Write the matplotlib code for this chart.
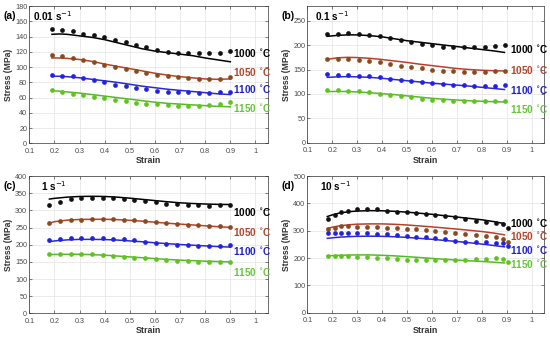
import matplotlib
matplotlib.use("Agg")
import matplotlib.pyplot as plt
import numpy as np

plt.rcParams['font.family'] = ['Liberation Sans', 'DejaVu Sans']

temps = ['1000', '1050', '1100', '1150']
dot_colors = ['#111111', '#8a4a1e', '#2222e0', '#5ec41e']
line_colors = ['#000000', '#b8402a', '#2a2ad0', '#58b82a']
label_colors = ['#000000', '#b0442a', '#2020c8', '#66c43a']

# ---- (a) 0.01 s^-1 ----
rate_a = '0.01 s$^{-1}$'
strain_a = [0.19, 0.232, 0.274, 0.315, 0.357, 0.399, 0.441, 0.483, 0.524, 0.566,
            0.608, 0.65, 0.692, 0.733, 0.775, 0.817, 0.859, 0.90]
exp_a_1000 = [149.5, 148.5, 147.5, 144, 142, 140, 135, 133, 129, 126, 123, 120, 119, 118, 118, 118, 119, 121.5]
exp_a_1050 = [116, 114, 112, 109, 107, 103, 100, 97, 95, 92, 89.5, 88, 86.5, 86, 85, 85, 84, 86.5]
exp_a_1100 = [90, 89, 88, 86, 83, 81, 77, 75, 72, 71, 69, 68, 67, 67, 66, 66, 67, 68]
exp_a_1150 = [70, 67, 65, 63, 61, 59, 57, 55, 53, 52, 51, 50, 49, 49, 49, 50, 51, 54]
fit_strain_a = [0.19, 0.22, 0.25, 0.3, 0.35, 0.4, 0.45, 0.5, 0.55, 0.6, 0.65, 0.7, 0.75, 0.8, 0.85, 0.9]
fit_a_1000 = [143, 143.5, 143, 141, 139, 136, 132, 128, 124, 121, 119, 117, 115, 112, 109.5, 107]
fit_a_1050 = [112, 112, 111.5, 110, 107.5, 104, 101, 98, 95, 92, 89.5, 87.5, 86, 84.5, 84, 84.5]
fit_a_1100 = [88, 88, 87.5, 86, 84, 82, 80, 77.5, 75, 73, 71, 69.5, 68, 66.5, 65, 64]
fit_a_1150 = [69, 68.5, 67.5, 66, 64, 62, 60, 58, 56, 54, 52.5, 51.5, 50.5, 49.5, 48.5, 48]
label_y_a = [119, 94, 71, 47]

# ---- (b) 0.1 s^-1 ----
rate_b = '0.1 s$^{-1}$'
strain_b = [0.18, 0.222, 0.264, 0.306, 0.348, 0.39, 0.432, 0.474, 0.516, 0.558,
            0.6, 0.642, 0.684, 0.726, 0.768, 0.81, 0.852, 0.893]
exp_b_1000 = [222, 223, 224, 223, 220, 218, 214, 210, 207, 203, 200, 197, 196, 196, 196, 197, 199, 200]
exp_b_1050 = [172, 172, 171, 170, 168, 166, 162, 158, 155, 153, 150, 147, 146, 145, 144, 145, 146, 146]
exp_b_1100 = [140, 139, 138, 137, 136, 134, 131, 128, 126, 124, 122, 120, 119, 118, 117, 117, 117, 119]
exp_b_1150 = [109, 108, 107, 105, 103, 100, 98, 95, 93, 90, 88, 87, 86, 86, 85, 85, 85, 85]
fit_strain_b = [0.18, 0.22, 0.26, 0.3, 0.35, 0.4, 0.45, 0.5, 0.55, 0.6, 0.65, 0.7, 0.75, 0.8, 0.85, 0.89]
fit_b_1000 = [218, 220, 221, 221, 219.5, 217, 213, 209, 206, 203, 200, 197, 194, 191, 188, 185]
fit_b_1050 = [171, 174, 175, 174.5, 173, 170.5, 167.5, 164.5, 161, 158, 155, 152, 150, 148.5, 147.5, 147]
fit_b_1100 = [134, 135, 135.5, 135, 134, 132, 129.5, 127, 124.5, 122, 120, 118, 116, 113.5, 111, 109]
fit_b_1150 = [105, 105, 105, 104, 102.5, 100.5, 98.5, 96, 93.5, 91, 89, 87.5, 86, 85, 84, 83.5]
label_y_b = [193, 149, 109, 69]

# ---- (c) 1 s^-1 ----
rate_c = '1 s$^{-1}$'
strain_c = [0.18, 0.222, 0.265, 0.307, 0.349, 0.392, 0.434, 0.476, 0.518, 0.561,
            0.603, 0.645, 0.688, 0.73, 0.772, 0.814, 0.857, 0.9]
exp_c_1000 = [315, 323, 332, 335, 335, 335, 335, 332, 330, 327, 324, 320, 318, 317, 315, 314, 315, 315]
exp_c_1050 = [262, 268, 271, 273, 274, 275, 274, 273, 271, 268, 265, 262, 259, 257, 256, 255, 254, 252]
exp_c_1100 = [214, 218, 219, 220, 220, 219, 218, 216, 213, 209, 205, 202, 199, 198, 197, 196, 196, 199]
exp_c_1150 = [172, 174, 174, 173, 172, 170, 168, 165, 162, 160, 158, 155, 153, 152, 150, 150, 150, 151]
fit_strain_c = [0.18, 0.2, 0.25, 0.3, 0.35, 0.4, 0.45, 0.5, 0.55, 0.6, 0.65, 0.7, 0.75, 0.8, 0.85, 0.9]
fit_c_1000 = [333, 335, 338.5, 340.5, 341, 340.5, 338.5, 335.5, 332, 328.5, 325, 322, 320, 318.5, 317.5, 317]
fit_c_1050 = [263, 267, 271.5, 273.5, 274, 274, 273, 271, 268.5, 265.5, 262.5, 260, 257.5, 255, 252.5, 250.5]
fit_c_1100 = [209, 211, 214, 215.5, 215.5, 215, 213.5, 211, 208.5, 205.5, 203, 200.5, 198.5, 196.5, 194.5, 193]
fit_c_1150 = [171, 171.5, 172, 172, 171, 169.5, 167, 164.5, 162, 159.5, 157, 155, 153.5, 152, 151, 150]
label_y_c = [294, 238, 182, 121]

# ---- (d) 10 s^-1 ----
rate_d = '10 s$^{-1}$'
strain_d = [0.184, 0.211, 0.234, 0.264, 0.30, 0.34, 0.378, 0.418, 0.458, 0.498, 0.536,
            0.576, 0.613, 0.652, 0.692, 0.732, 0.776, 0.816, 0.856, 0.886, 0.906]
exp_d_1000 = [343, 357, 369, 373, 379, 379, 378, 372, 370, 367, 366, 361, 357, 354, 349, 342, 337, 333, 327, 323, 311]
exp_d_1050 = [305, 311, 317, 317, 315, 315, 312, 311, 309, 305, 305, 303, 300, 295, 290, 288, 284, 282, 278, 271, 260]
exp_d_1100 = [290, 290, 290, 290, 290, 290, 288, 287, 284, 281, 278, 276, 272, 268, 263, 260, 260, 258, 256, 256, 244]
exp_d_1150 = [208, 208, 207, 207, 205, 205, 202, 199, 196, 194, 193, 193, 193, 193, 193, 194, 196, 198, 199, 196, 187]
fit_strain_d = [0.18, 0.2, 0.23, 0.27, 0.3, 0.35, 0.4, 0.45, 0.5, 0.55, 0.6, 0.65, 0.7, 0.75, 0.8, 0.85, 0.89]
fit_d_1000 = [352, 358, 365, 370, 372, 373.5, 373, 371, 368, 364, 360, 355, 350, 345, 340, 333, 326]
fit_d_1050 = [308, 313, 318, 322, 324, 325, 325, 323.5, 321, 317.5, 314, 310, 306, 301.5, 297, 291, 285]
fit_d_1100 = [272, 274, 276.5, 278.5, 279.5, 280, 279.5, 278, 275.5, 272, 268.5, 264.5, 260.5, 256, 251, 245.5, 241]
fit_d_1150 = [208, 209, 210, 211, 211.5, 211.5, 210, 208, 205, 202, 198.5, 195.5, 192.5, 190, 187.5, 184.5, 182]
label_y_d = [330, 282, 229, 178]

panels = [
    dict(tag='(a)', rate=rate_a, x=strain_a, exp=[exp_a_1000, exp_a_1050, exp_a_1100, exp_a_1150],
         fx=fit_strain_a, fit=[fit_a_1000, fit_a_1050, fit_a_1100, fit_a_1150], ly=label_y_a,
         ylim=180, ystep=20, pos=[0.0533, 0.577, 0.434, 0.405], rx=0.017),
    dict(tag='(b)', rate=rate_b, x=strain_b, exp=[exp_b_1000, exp_b_1050, exp_b_1100, exp_b_1150],
         fx=fit_strain_b, fit=[fit_b_1000, fit_b_1050, fit_b_1100, fit_b_1150], ly=label_y_b,
         ylim=280, ystep=50, pos=[0.5588, 0.579, 0.431, 0.403], rx=0.032),
    dict(tag='(c)', rate=rate_c, x=strain_c, exp=[exp_c_1000, exp_c_1050, exp_c_1100, exp_c_1150],
         fx=fit_strain_c, fit=[fit_c_1000, fit_c_1050, fit_c_1100, fit_c_1150], ly=label_y_c,
         ylim=400, ystep=50, pos=[0.0533, 0.0757, 0.434, 0.405], rx=0.048),
    dict(tag='(d)', rate=rate_d, x=strain_d, exp=[exp_d_1000, exp_d_1050, exp_d_1100, exp_d_1150],
         fx=fit_strain_d, fit=[fit_d_1000, fit_d_1050, fit_d_1100, fit_d_1150], ly=label_y_d,
         ylim=500, ystep=100, pos=[0.5588, 0.0776, 0.431, 0.403], rx=0.054),
]

fig = plt.figure(figsize=(5.5, 3.39), dpi=100)
for p in panels:
    ax = fig.add_axes(p['pos'])
    for i in range(4):
        ax.plot(p['fx'], p['fit'][i], color=line_colors[i], lw=1.1, zorder=2)
        ax.plot(p['x'], p['exp'][i], 'o', color=dot_colors[i], ms=3.4, mec='none', zorder=3)
        ax.text(0.912, p['ly'][i], temps[i] + r' $^{\circ}$C', color=label_colors[i],
                fontsize=7.2, fontweight='bold', va='center', ha='left')
    ax.set_xlim(0.1, 1.05)
    ax.set_ylim(0, p['ylim'])
    ax.set_xticks(np.arange(0.1, 1.01, 0.1))
    ax.set_xticklabels(['0.1', '0.2', '0.3', '0.4', '0.5', '0.6', '0.7', '0.8', '0.9', '1'])
    ax.set_yticks(np.arange(0, p['ylim'] + 1, p['ystep']))
    ax.grid(True, color='#e3e3e3', lw=0.5)
    ax.set_axisbelow(True)
    ax.tick_params(direction='in', length=2, width=0.5, labelsize=5.2, colors='#4a4a4a',
                   top=True, right=True)
    ax.tick_params(axis='x', pad=3.2)
    ax.tick_params(axis='y', pad=1.5)
    for s in ax.spines.values():
        s.set_color('#333333')
        s.set_linewidth(0.5)
    ax.set_xlabel('Strain', fontsize=6.4, fontweight='bold', color='#333333', labelpad=1)
    ax.set_ylabel('Stress (MPa)', fontsize=6.2, fontweight='bold', color='#333333', labelpad=1.5)
    ax.text(p['rx'], 0.93, p['rate'], transform=ax.transAxes, fontsize=7.2, fontweight='bold',
            va='center', ha='left')
    ax.text(-0.11, 0.93, p['tag'], transform=ax.transAxes, fontsize=7.5, fontweight='bold',
            va='center', ha='left')

fig.savefig('out.png', dpi=100)
